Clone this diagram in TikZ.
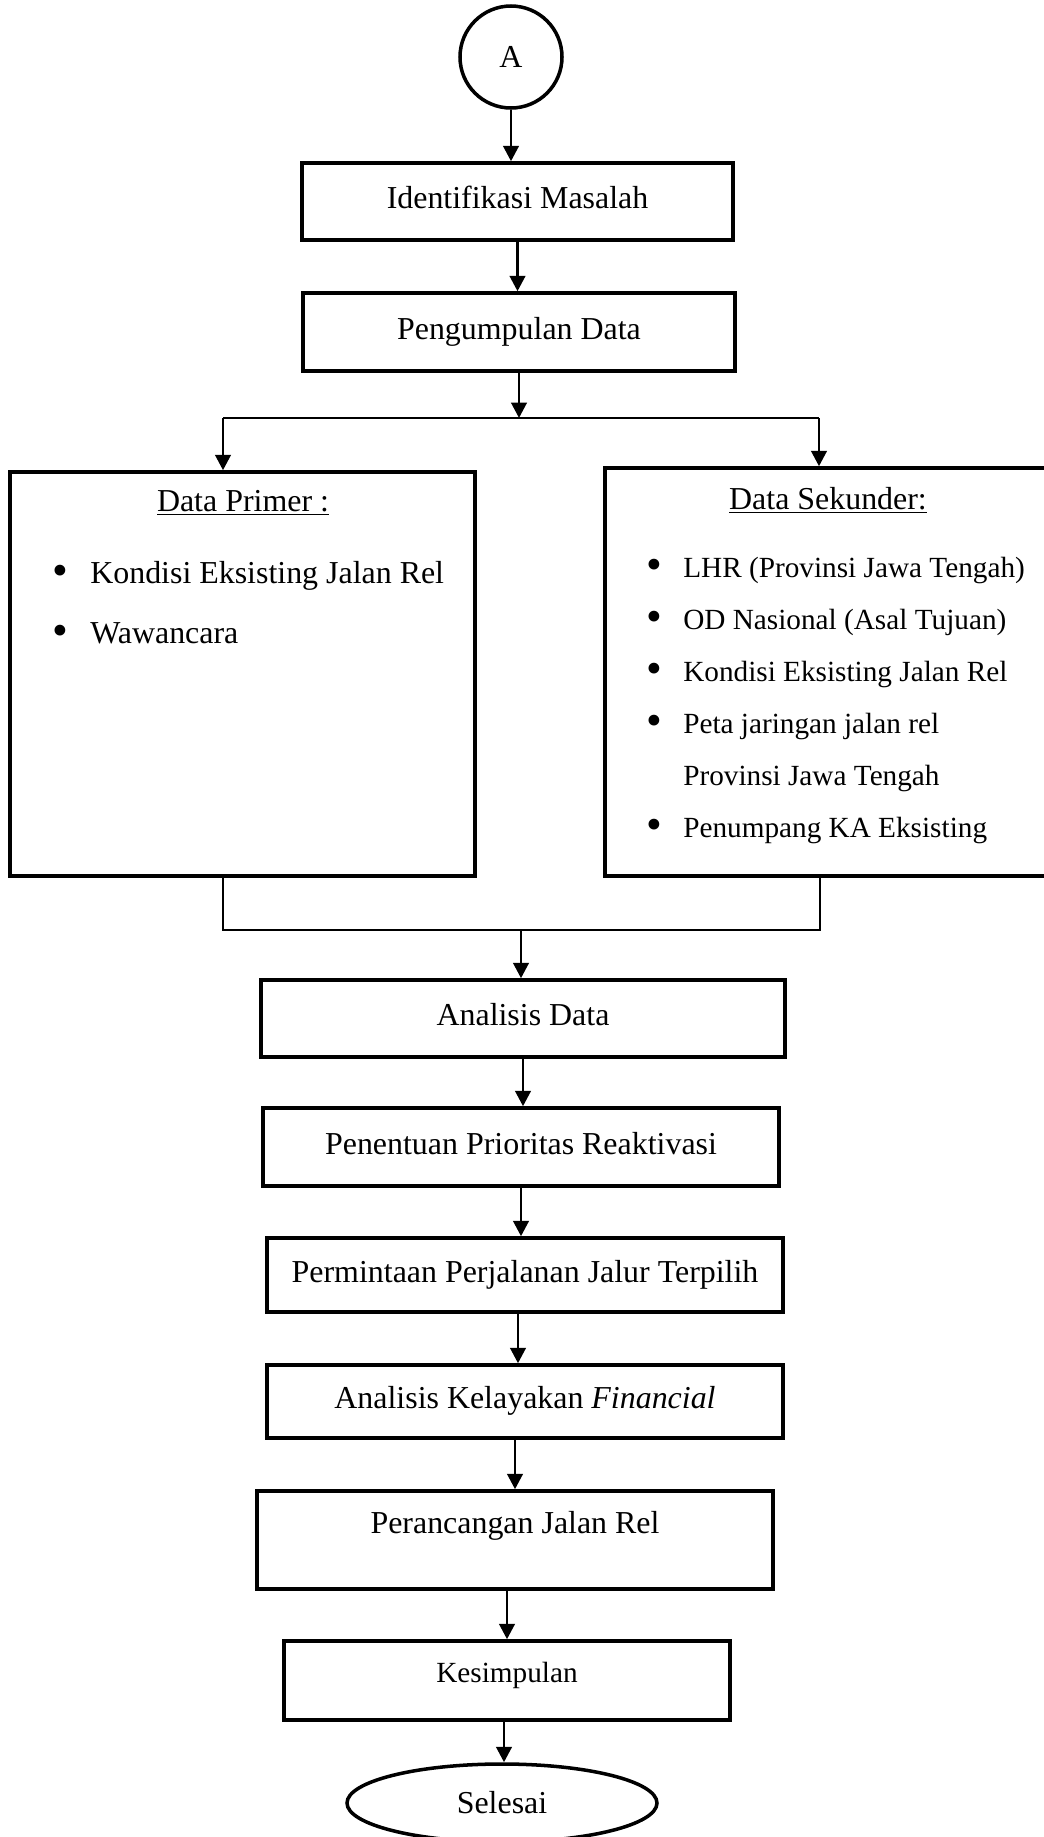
\documentclass[tikz,border=0pt]{standalone}
\usepackage{fontspec}
\setmainfont{Liberation Serif}
\usetikzlibrary{shapes.geometric,arrows.meta,calc}
\newcommand{\unitpx}{0.025cm}
\newcommand{\bigtxt}{\fontsize{22.7pt}{27pt}\selectfont}
\newcommand{\smalltxt}{\fontsize{20.8pt}{25pt}\selectfont}
\newcommand{\blt}{\raisebox{-0.12ex}{\fontsize{32pt}{0pt}\selectfont\textbullet}}
\tikzset{
  box/.style={draw, line width=2.5pt, font=\bigtxt, text height=22*\unitpx, text depth=8*\unitpx},
  EdgeStyle/.style={line width=2.1pt, -{Triangle[length=11pt,width=11pt]}},
  LineStyle/.style={line width=2.1pt}
}

\begin{document}
\begin{tikzpicture}[x=\unitpx, y=-\unitpx]
	\useasboundingbox (0,0) rectangle (1044,1837);
	% start
	\node[circle, draw, line width=2.5pt, minimum size=102*\unitpx, inner sep=0pt, font=\bigtxt] (A) at (511,57) {A};
	\node[box, minimum width=431*\unitpx, minimum height=77*\unitpx] (ident) at (517.5,201.5) {Identifikasi Masalah};
	\node[box, minimum width=432*\unitpx, minimum height=78*\unitpx] (peng) at (519,332) {Pengumpulan Data};
	% data boxes
	\node[draw, line width=2.5pt, minimum width=465*\unitpx, minimum height=404*\unitpx] (prim) at (242.5,674) {};
	\node[draw, line width=2.5pt, minimum width=445*\unitpx, minimum height=408*\unitpx] (sek) at (827.5,672) {};
	\node[font=\bigtxt] (primhead) at (243,503) {\underline{Data Primer :}};
	\node[font=\bigtxt] (sekhead) at (828,500) {\underline{Data Sekunder:}};
	\node[anchor=north west, inner sep=0pt, font=\fontsize{22.7pt}{42.7pt}\selectfont] (primlist) at (52,541) {%
		\begin{tabular}{@{}p{0.95cm}@{}l@{}}
		\blt & Kondisi Eksisting Jalan Rel\\
		\blt & Wawancara
		\end{tabular}};
	\node[anchor=north west, inner sep=0pt, font=\fontsize{20.8pt}{37pt}\selectfont] (seklist) at (646,541) {%
		\begin{tabular}{@{}p{0.925cm}@{}l@{}}
		\blt & LHR (Provinsi Jawa Tengah)\\
		\blt & OD Nasional (Asal Tujuan)\\
		\blt & Kondisi Eksisting Jalan Rel\\
		\blt & Peta jaringan jalan rel\\
		 & Provinsi Jawa Tengah\\
		\blt & Penumpang KA Eksisting
		\end{tabular}};
	% rest of the flow
	\node[box, minimum width=524*\unitpx, minimum height=77*\unitpx] (ana) at (523,1018.5) {Analisis Data};
	\node[box, minimum width=516*\unitpx, minimum height=78*\unitpx] (pen) at (521,1147) {Penentuan Prioritas Reaktivasi};
	\node[box, minimum width=516*\unitpx, minimum height=74*\unitpx] (perm) at (525,1275) {Permintaan Perjalanan Jalur Terpilih};
	\node[box, minimum width=516*\unitpx, minimum height=73*\unitpx] (kel) at (525,1401.5) {Analisis Kelayakan \textit{Financial}};
	\node[box, minimum width=516*\unitpx, minimum height=98*\unitpx, text depth=35*\unitpx] (ran) at (515,1540) {Perancangan Jalan Rel};
	\node[box, minimum width=446*\unitpx, minimum height=79*\unitpx, font=\smalltxt, text depth=18*\unitpx] (kes) at (507,1680.5) {Kesimpulan};
	\node[ellipse, draw, line width=2.5pt, minimum width=310*\unitpx, minimum height=78*\unitpx, inner sep=0pt, font=\bigtxt] (sel) at (502,1803) {Selesai};
	% branch points
	\coordinate (sL) at (223,418);
	\coordinate (sM) at (521,418);
	\coordinate (sR) at (819,418);
	\coordinate (jL) at (223,930);
	\coordinate (jM) at (521,930);
	\coordinate (jR) at (820,930);
	% edges
	\draw[EdgeStyle] (A.south) -- (A.south |- ident.north);
	\draw[EdgeStyle] (ident.south) -- (ident.south |- peng.north);
	\draw[EdgeStyle] (peng.south) -- (peng.south |- sM);
	\draw[LineStyle] (sL) -- (sR);
	\draw[EdgeStyle] (sL) -- (sL |- prim.north);
	\draw[EdgeStyle] (sR) -- (sR |- sek.north);
	\draw[LineStyle] (jL |- prim.south) -- (jL) -- (jR) -- (jR |- sek.south);
	\draw[EdgeStyle] (jM) -- (jM |- ana.north);
	\draw[EdgeStyle] (ana.south) -- (ana.south |- pen.north);
	\draw[EdgeStyle] (pen.south) -- (pen.south |- perm.north);
	\draw[EdgeStyle] ($(perm.south)+(-7,0)$) -- ($(perm.south |- kel.north)+(-7,0)$);
	\draw[EdgeStyle] ($(kel.south)+(-10,0)$) -- ($(kel.south |- ran.north)+(-10,0)$);
	\draw[EdgeStyle] ($(ran.south)+(-8,0)$) -- ($(ran.south |- kes.north)+(-8,0)$);
	\draw[EdgeStyle] ($(kes.south)+(-3,0)$) -- ($(kes.south |- sel.north)+(-3,0)$);
\end{tikzpicture}
\end{document}
